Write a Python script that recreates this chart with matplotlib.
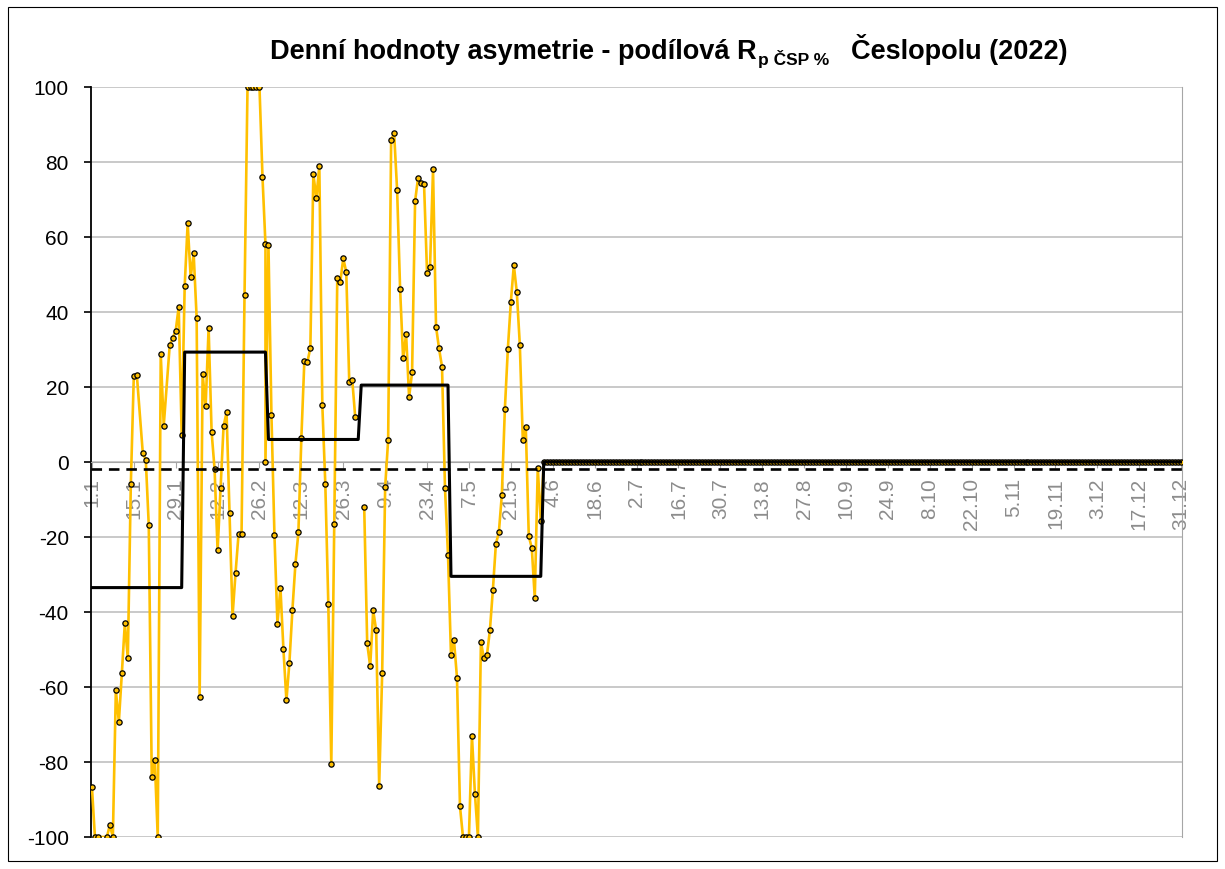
"""
Denní hodnoty asymetrie - podílová Rp ČSP % Česlopolu (2022)
"""
import matplotlib.pyplot as plt
import numpy as np

plt.rcParams["font.family"] = ["Liberation Sans", "DejaVu Sans"]
plt.rcParams["axes.unicode_minus"] = False

# daily values Jan-May (day index from 1.1.), nan = missing day (gap in line)
days = [
    0, 1, 2, 5, 6, 7, 8, 9, 10, 11, 12, 13, 14, 15, 17, 18, 19, 20, 21, 22,
    23, 24, 26, 27, 28, 29, 30, 31, 32, 33, 34, 35, 36, 37, 38, 39, 40, 41,
    42, 43, 44, 45, 46, 47, 48, 49, 50, 51, 52, 53, 54, 55, 56, 57, 58, 58,
    59, 60, 61, 62, 63, 64, 65, 66, 67, 68, 69, 70, 71, 72, 73, 74, 75, 76,
    77, 78, 79, 80, 81, 82, 83, 84, 85, 86, 87, 88, 89, 90, 91, 92, 93, 94,
    95, 96, 97, 98, 99, 100, 101, 102, 103, 104, 105, 106, 107, 108, 109,
    110, 111, 112, 113, 114, 115, 116, 117, 118, 119, 120, 121, 122, 123,
    124, 125, 126, 127, 128, 129, 130, 131, 132, 133, 134, 135, 136, 137,
    138, 139, 140, 141, 142, 143, 144, 145, 146, 147, 148, 149, 150,
]
values = [
    -86.6, -100, -100, -100, -96.8, -100, -60.9, -69.3, -56.4, -43.0, -52.4,
    -6.0, 23.0, 23.3, 2.4, 0.6, -16.9, -84.1, -79.4, -100,
    28.8, 9.7, 31.1, 33.1, 35.0, 41.3, 7.2, 46.8, 63.7, 49.2, 55.6, 38.4,
    -62.8, 23.4, 14.9, 35.7, 8.0, -2.0,
    -23.6, -7.0, 9.6, 13.2, -13.6, -41.1, -29.6, -19.3, -19.3, 44.5,
    100, 100, 100, 100, 100, 76.1, 58.0, 0.0,
    57.8, 12.4, -19.5, -43.2, -33.5, -49.9, -63.6, -53.5, -39.5, -27.3,
    -18.8, 6.5, 27.0, 26.6, 30.4, 76.8, 70.3, 79.0,
    15.2, -5.9, -37.8, -80.6, -16.5, 49.1, 47.9, 54.3, 50.6, 21.3, 21.9,
    11.9, np.nan, np.nan, -12.1, -48.4, -54.5, -39.6,
    -44.9, -86.3, -56.4, -6.7, 5.9, 85.9, 87.6, 72.4, 46.0, 27.6, 34.0,
    17.3, 23.9, 69.5, 75.8,
    74.3, 74.0, 50.4, 52.1, 78.0, 36.1, 30.3, 25.4, -7.0, -24.7, -51.5,
    -47.6, -57.5, -91.8,
    -100, -100, -100, -73.0, -88.5, -100, -48.0, -52.4, -51.6, -44.9,
    -34.1, -21.9, -18.7, -8.7,
    14.0, 30.1, 42.6, 52.5, 45.2, 31.3, 5.9, 9.2, -19.8, -22.9, -36.3,
    -1.6, -15.8,
]
# 1.6. - 31.12. all zero
zero_days = list(range(151, 365))
zero_values = [0.0] * len(zero_days)

month_len = [31, 28, 31, 30, 31, 30, 31, 31, 30, 31, 30, 31]
month_mean = [-33.5, 29.3, 6.0, 20.5, -30.5, 0, 0, 0, 0, 0, 0, 0]
year_mean = -2.0

tick_days = list(range(0, 365, 14))
tick_labels = [
    "1.1", "15.1", "29.1", "12.2", "26.2", "12.3", "26.3", "9.4", "23.4",
    "7.5", "21.5", "4.6", "18.6", "2.7", "16.7", "30.7", "13.8", "27.8",
    "10.9", "24.9", "8.10", "22.10", "5.11", "19.11", "3.12", "17.12", "31.12",
]

all_days = days + zero_days
all_values = values + zero_values
daily_mean = np.repeat(month_mean, month_len)

fig = plt.figure(figsize=(12.25, 8.7), dpi=100)
ax = fig.add_axes([0.0743, 0.0368, 0.8906, 0.8621])
ax.set_axisbelow(True)

ax.plot(all_days, all_values, color="#FFC000", lw=1.9, marker="o", ms=3.8,
        mfc="#FFC000", mec="black", mew=0.9, zorder=3)
ax.plot(np.arange(365), daily_mean, color="black", lw=2.2, zorder=4)
ax.axhline(year_mean, color="black", lw=1.9, ls=(0, (4, 2.6)), zorder=4)

ax.set_xlim(-0.3, 364.3)
ax.set_ylim(-100, 100)
ax.set_yticks(np.arange(-100, 101, 20))
ax.yaxis.grid(True, color="#c0c0c0", lw=1.2)
ax.tick_params(axis="y", length=5, width=1.2, pad=11, labelsize=15,
               colors="black")

ax.spines["bottom"].set_position(("data", 0))
ax.spines["bottom"].set_color("#a6a6a6")
ax.spines["top"].set_visible(False)
ax.spines["right"].set_color("#a6a6a6")
ax.spines["left"].set_linewidth(1.3)
ax.set_xticks(tick_days)
ax.set_xticklabels(tick_labels, rotation=90, color="#8c8c8c", fontsize=15)
ax.tick_params(axis="x", length=4, color="#a6a6a6", pad=7)

# title with subscript
ty = 1 - 59 / 870
t1 = fig.text(270 / 1225, ty, "Denní hodnoty asymetrie - podílová R",
              fontsize=19.5, fontweight="bold", va="baseline")
fig.canvas.draw()
r = fig.canvas.get_renderer()
x1 = t1.get_window_extent(r).x1 / 1225
t2 = fig.text(x1 + 0.001, ty - 6 / 870, "p ČSP %", fontsize=12.5,
              fontweight="bold", va="baseline")
x2 = t2.get_window_extent(r).x1 / 1225
fig.text(x2 + 22 / 1225, ty, "Česlopolu (2022)", fontsize=19.5,
         fontweight="bold", va="baseline")

fig.add_artist(plt.Rectangle((8 / 1225, 8 / 870), 1209 / 1225, 854 / 870,
                             fill=False, ec="black", lw=0.8,
                             transform=fig.transFigure))

plt.savefig("out.png", dpi=100)
